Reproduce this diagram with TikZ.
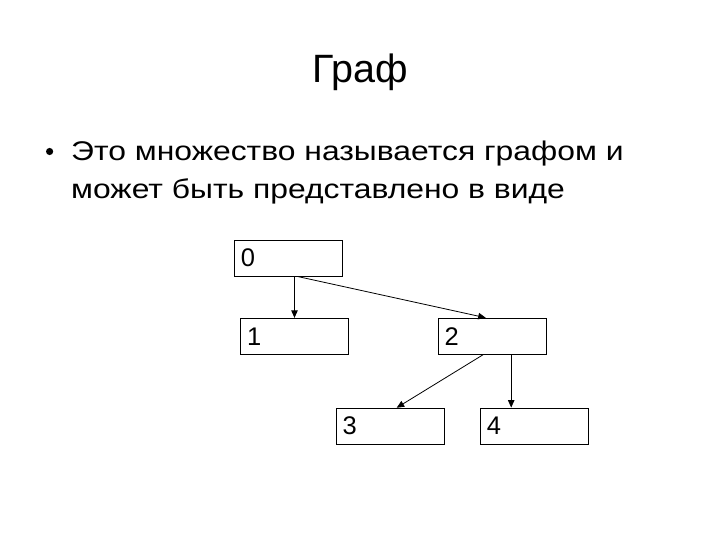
\documentclass[tikz,border=0pt]{standalone}
\usepackage{fontspec}
\setmainfont{Liberation Sans}
\newfontfamily\bodyfont[FakeStretch=1.18]{Liberation Sans}
\usetikzlibrary{arrows.meta,calc}
\begin{document}
\begin{tikzpicture}[x=1pt,y=-1pt,
  vbox/.style={draw,line width=0.9pt,minimum width=108pt,minimum height=36pt,
    inner xsep=6.5pt,inner ysep=0pt,text width=95pt,align=left,font=\fontsize{25.5}{28}\selectfont},
  arr/.style={line width=0.8pt,-{Triangle[length=7.5pt,width=6.5pt]}},
  body/.style={anchor=base west,inner sep=0pt,font=\bodyfont\fontsize{27}{32}\selectfont}]
\useasboundingbox (0,0) rectangle (720,540);
\node[anchor=base,inner sep=0pt,font=\fontsize{39.5}{44}\selectfont] (title) at (360,82.7) {Граф};
\fill (49.6,151.5) circle (3.6);
\node[body] (l1) at (71,160.7) {Это множество называется графом и};
\node[body] (l2) at (71,198.3) {может быть представлено в виде};
\node[vbox] (b0) at (288.3,258.2) {0};
\node[vbox] (b1) at (294.5,336.3) {1};
\node[vbox] (b2) at (492.2,336.2) {2};
\node[vbox] (b3) at (390.2,426.2) {3};
\node[vbox] (b4) at (534.3,426) {4};
\draw[arr] (b0.south -| b1.north) -- (b1.north);
\draw[arr] ($(b0.south)+(10,0)$) -- ($(b2.north)+(-6.5,0)$);
\draw[arr] ($(b2.south)+(-9,0)$) -- ($(b3.north)+(6.5,0)$);
\draw[arr] ($(b2.south)+(19,0)$) coordinate (s24) -- (s24 |- b4.north);
\end{tikzpicture}
\end{document}
